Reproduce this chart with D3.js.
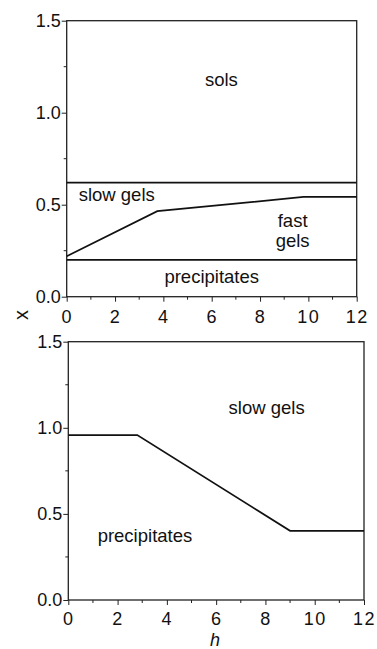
<!DOCTYPE html>
<html>
<head>
  <meta charset="utf-8">
  <title>Phase diagram</title>
  <script src="https://d3js.org/d3.v7.min.js"></script>
  <style>
    body { margin: 0; background: #fff; }
    svg text { font-family: "Liberation Sans", Arial, sans-serif; fill: #111; }
  </style>
</head>
<body>
  <div id="chart"></div>
  <script>
    // values
    var hTicks = [0, 2, 4, 6, 8, 10, 12];
    var xTicks = [0, 0.5, 1.0, 1.5];

    // top panel boundaries (h, x)
    var solsBoundary = [[0, 0.62], [12, 0.62]];
    var precipBoundary = [[0, 0.20], [12, 0.20]];
    var fastGelBoundary = [[0, 0.22], [3.75, 0.465], [9.8, 0.542], [12, 0.542]];
    var topLabels = [
      { text: "sols", h: 6.4, x: 1.18 },
      { text: "slow gels", h: 2.07, x: 0.555 },
      { text: "fast", h: 9.35, x: 0.415 },
      { text: "gels", h: 9.35, x: 0.305 },
      { text: "precipitates", h: 6.0, x: 0.11 }
    ];

    // bottom panel boundary
    var gelBoundary = [[0, 0.958], [2.8, 0.958], [9.0, 0.402], [12, 0.402]];
    var bottomLabels = [
      { text: "slow gels", h: 8.05, x: 1.12 },
      { text: "precipitates", h: 3.11, x: 0.377 }
    ];

    var svg = d3.select("#chart").append("svg")
      .attr("width", 377)
      .attr("height", 649);

    function drawPanel(left, top, w, ht, lines, labels, pad) {
      var xScale = d3.scaleLinear().domain([0, 12]).range([0, w]);
      var yScale = d3.scaleLinear().domain([0, 1.5]).range([ht, 0]);
      var g = svg.append("g").attr("transform", "translate(" + left + "," + top + ")");

      // frame
      g.append("rect")
        .attr("x", 0).attr("y", 0)
        .attr("width", w).attr("height", ht)
        .attr("fill", "none")
        .attr("stroke", "#222")
        .attr("stroke-width", 1.3);

      // minor ticks
      g.selectAll(".hminor")
        .data(d3.range(1, 12, 2))
        .join("line")
        .attr("class", "hminor")
        .attr("x1", d => xScale(d)).attr("x2", d => xScale(d))
        .attr("y1", ht).attr("y2", ht + 3)
        .attr("stroke", "#222");
      g.selectAll(".xminor")
        .data([0.25, 0.75, 1.25])
        .join("line")
        .attr("class", "xminor")
        .attr("x1", 0).attr("x2", -3)
        .attr("y1", d => yScale(d)).attr("y2", d => yScale(d))
        .attr("stroke", "#222");

      var xAxis = d3.axisBottom(xScale).tickValues(hTicks).tickSize(5).tickPadding(pad);
      var yAxis = d3.axisLeft(yScale).tickValues(xTicks).tickSize(5).tickPadding(1)
        .tickFormat(d3.format(".1f"));

      var gx = g.append("g").attr("transform", "translate(0," + ht + ")").call(xAxis);
      var gy = g.append("g").call(yAxis);
      [gx, gy].forEach(function (a) {
        a.select(".domain").remove();
        a.selectAll(".tick line").attr("stroke", "#222");
        a.selectAll(".tick text")
          .style("font-size", "18px")
          .style("font-family", "'Liberation Sans', Arial, sans-serif")
          .attr("fill", "#111");
      });
      gx.selectAll(".tick text").style("letter-spacing", "1.5px");

      var line = d3.line()
        .x(d => xScale(d[0]))
        .y(d => yScale(d[1]));

      lines.forEach(function (pts) {
        g.append("path")
          .datum(pts)
          .attr("d", line)
          .attr("fill", "none")
          .attr("stroke", "#111")
          .attr("stroke-width", 1.7);
      });

      g.selectAll(".region")
        .data(labels)
        .join("text")
        .attr("class", "region")
        .attr("x", d => xScale(d.h))
        .attr("y", d => yScale(d.x))
        .attr("dy", "0.35em")
        .attr("text-anchor", "middle")
        .style("font-size", "18.5px")
        .text(d => d.text);

      return g;
    }

    drawPanel(66.7, 20.7, 290, 276, [solsBoundary, precipBoundary, fastGelBoundary], topLabels, 9);
    drawPanel(68.3, 341.7, 295.7, 258.3, [gelBoundary], bottomLabels, 7);

    // axis titles
    svg.append("text")
      .attr("transform", "translate(21,315) rotate(-90)")
      .attr("text-anchor", "middle")
      .attr("dy", "0.35em")
      .style("font-size", "20px")
      .text("x");

    svg.append("text")
      .attr("x", 215)
      .attr("y", 646)
      .attr("text-anchor", "middle")
      .style("font-size", "18px")
      .style("font-style", "italic")
      .text("h");
  </script>
</body>
</html>
